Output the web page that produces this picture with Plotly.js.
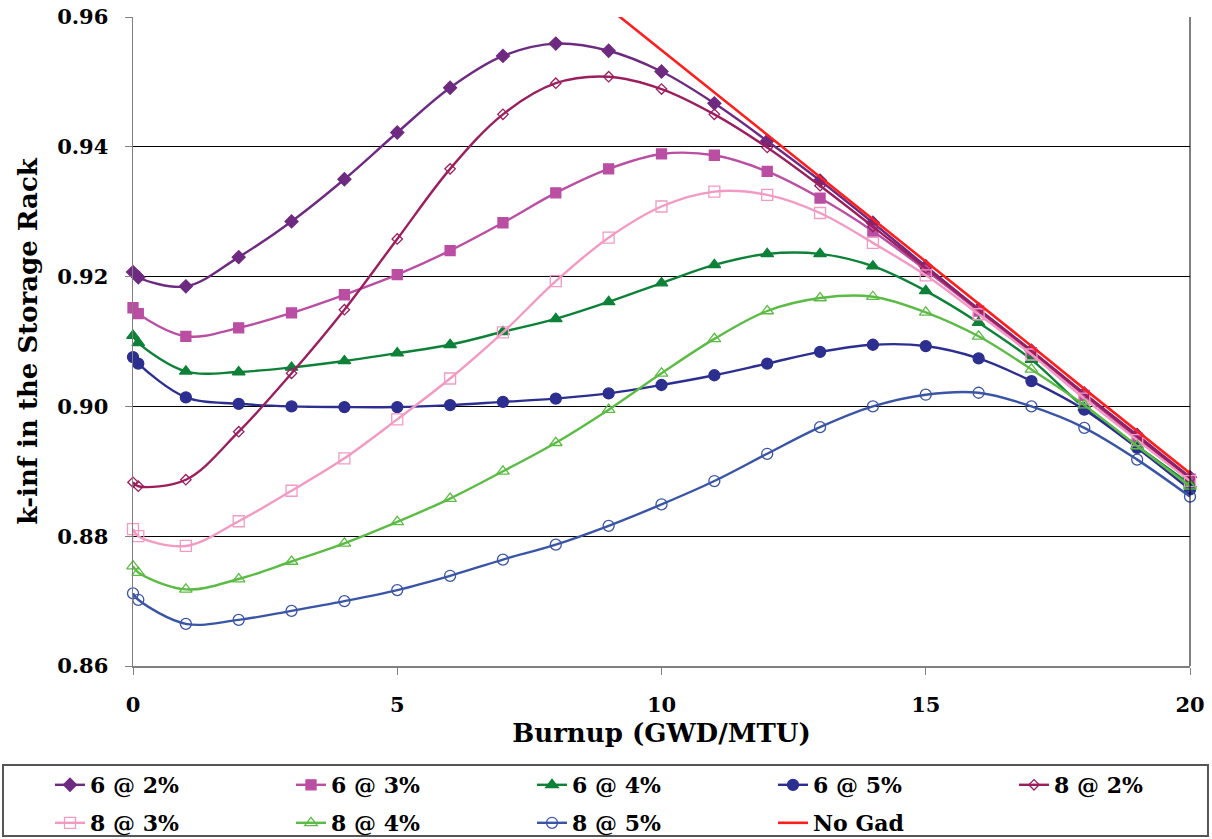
<!DOCTYPE html>
<html>
<head>
<meta charset="utf-8">
<script src="https://cdn.plot.ly/plotly-3.0.1.min.js"></script>
<style>html,body{margin:0;padding:0;background:#fff;}#chart{width:1212px;height:839px;}</style>
</head>
<body>
<div id="chart"></div>
<script>
// Burnup (GWD/MTU)
const burnup = [0, 0.1, 1, 2, 3, 4, 5, 6, 7, 8, 9, 10, 11, 12, 13, 14, 15, 16, 17, 18, 19, 20];

const k6at2 = [0.9207, 0.9199, 0.9185, 0.9230, 0.9285, 0.9350, 0.9422, 0.9491, 0.9540, 0.9559, 0.9548, 0.9516, 0.9467, 0.9409, 0.9348, 0.9283, 0.9216, 0.9150, 0.9086, 0.9020, 0.8956, 0.8891];
const k6at3 = [0.9152, 0.9143, 0.9108, 0.9121, 0.9144, 0.9172, 0.9203, 0.9240, 0.9283, 0.9329, 0.9366, 0.9389, 0.9387, 0.9362, 0.9321, 0.9270, 0.9210, 0.9147, 0.9083, 0.9017, 0.8951, 0.8888];
const k6at4 = [0.9109, 0.9098, 0.9054, 0.9053, 0.9060, 0.9070, 0.9082, 0.9095, 0.9115, 0.9135, 0.9161, 0.9190, 0.9218, 0.9235, 0.9235, 0.9216, 0.9178, 0.9129, 0.9072, 0.8998, 0.8939, 0.8880];
const k6at5 = [0.9076, 0.9066, 0.9014, 0.9004, 0.9000, 0.8999, 0.8999, 0.9002, 0.9007, 0.9012, 0.9020, 0.9033, 0.9048, 0.9066, 0.9084, 0.9095, 0.9093, 0.9074, 0.9039, 0.8995, 0.8936, 0.8872];
const k8at2 = [0.8883, 0.8877, 0.8887, 0.8961, 0.9051, 0.9149, 0.9258, 0.9366, 0.9450, 0.9498, 0.9508, 0.9489, 0.9450, 0.9399, 0.9340, 0.9277, 0.9213, 0.9149, 0.9085, 0.9019, 0.8954, 0.8889];
const k8at3 = [0.8811, 0.8800, 0.8785, 0.8823, 0.8870, 0.8920, 0.8980, 0.9043, 0.9114, 0.9193, 0.9260, 0.9308, 0.9331, 0.9326, 0.9298, 0.9252, 0.9202, 0.9142, 0.9080, 0.9012, 0.8948, 0.8885];
const k8at4 = [0.8754, 0.8744, 0.8718, 0.8734, 0.8761, 0.8789, 0.8822, 0.8858, 0.8900, 0.8944, 0.8995, 0.9051, 0.9104, 0.9147, 0.9167, 0.9169, 0.9145, 0.9108, 0.9057, 0.9002, 0.8939, 0.8877];
const k8at5 = [0.8712, 0.8702, 0.8665, 0.8671, 0.8685, 0.8700, 0.8717, 0.8739, 0.8764, 0.8787, 0.8816, 0.8849, 0.8885, 0.8927, 0.8968, 0.9000, 0.9018, 0.9021, 0.9000, 0.8967, 0.8918, 0.8861];

const noGadBurnup = [9, 10, 11, 12, 13, 14, 15, 16, 17, 18, 19, 20];
const noGadK = [0.9614, 0.9549, 0.9484, 0.9418, 0.9353, 0.9288, 0.9223, 0.9158, 0.9093, 0.9027, 0.8962, 0.8897];

const seriesNames = ['6 @ 2%', '6 @ 3%', '6 @ 4%', '6 @ 5%', '8 @ 2%', '8 @ 3%', '8 @ 4%', '8 @ 5%', 'No Gad'];

const serif = 'DejaVu Serif';

function legendId(i) { return i === 0 ? 'legend' : 'legend' + (i + 1); }

function curve(i, y, color, symbol, size) {
  return {
    type: 'scatter', mode: 'lines+markers', name: seriesNames[i], legend: legendId(i),
    x: burnup, y: y, cliponaxis: false,
    line: {color: color, width: 2.4, shape: 'spline', smoothing: 1},
    marker: {symbol: symbol, size: size, color: color, line: {color: color, width: 1.3}}
  };
}

const traces = [
  curve(0, k6at2, '#6E2A80', 'diamond', 10),
  curve(1, k6at3, '#BA4EA3', 'square', 10),
  curve(2, k6at4, '#0E8138', 'triangle-up', 11),
  curve(3, k6at5, '#2C2F90', 'circle', 11),
  curve(4, k8at2, '#9B1F5E', 'diamond-open', 8),
  curve(5, k8at3, '#F29AC3', 'square-open', 11),
  curve(6, k8at4, '#5CBB45', 'triangle-up-open', 11),
  curve(7, k8at5, '#3A55A6', 'circle-open', 11),
  {
    type: 'scatter', mode: 'lines', name: seriesNames[8], legend: legendId(8),
    x: noGadBurnup, y: noGadK,
    line: {color: '#FF1E1E', width: 2.6}
  }
];

const layout = {
  width: 1212, height: 839,
  margin: {l: 133, r: 22, t: 17, b: 173},
  paper_bgcolor: '#ffffff', plot_bgcolor: '#ffffff',
  font: {family: serif, color: '#000000'},
  showlegend: true,
  xaxis: {
    range: [0, 20], dtick: 5, tick0: 0,
    showgrid: false, zeroline: false,
    showline: true, linecolor: '#808080', linewidth: 1.5,
    ticks: 'outside', ticklen: 7, tickcolor: '#808080',
    ticklabelstandoff: 12,
    tickfont: {family: serif, size: 21, weight: 'bold', color: '#000'},
    title: {text: 'Burnup (GWD/MTU)', font: {family: serif, size: 26, weight: 'bold', color: '#000'}, standoff: 8}
  },
  yaxis: {
    range: [0.86, 0.96], dtick: 0.02, tick0: 0.86, tickformat: '.2f',
    showgrid: true, gridcolor: '#000000', gridwidth: 1,
    zeroline: false,
    showline: true, linecolor: '#808080', linewidth: 1.5,
    ticks: 'outside', ticklen: 7, tickcolor: '#808080',
    ticklabelstandoff: 12,
    tickfont: {family: serif, size: 21, weight: 'bold', color: '#000'},
    title: {text: 'k-inf in the Storage Rack', font: {family: serif, size: 26, weight: 'bold', color: '#000'}, standoff: 12}
  },
  shapes: [
    {type: 'rect', xref: 'paper', yref: 'paper', x0: -0.1230, x1: 1.0170, y0: -0.1525, y1: -0.2619,
     line: {color: '#555555', width: 2}},
    {type: 'line', xref: 'paper', yref: 'paper', x0: 1, x1: 1, y0: 0, y1: 1,
     line: {color: '#000000', width: 1}}
  ]
};

// one legend box per entry, laid out as 5 columns x 2 rows like the reference
for (let i = 0; i < seriesNames.length; i++) {
  const col = i % 5, row = Math.floor(i / 5);
  layout[legendId(i)] = {
    orientation: 'h',
    xref: 'container', x: (50 + 241 * col) / 1212, xanchor: 'left',
    yref: 'container', y: row === 0 ? 0.0894 : 0.0441, yanchor: 'top',
    bgcolor: 'rgba(0,0,0,0)', borderwidth: 0,
    font: {family: serif, size: 22, weight: 'bold', color: '#000'}
  };
}

Plotly.newPlot('chart', traces, layout, {displayModeBar: false, staticPlot: true});
</script>
</body>
</html>
